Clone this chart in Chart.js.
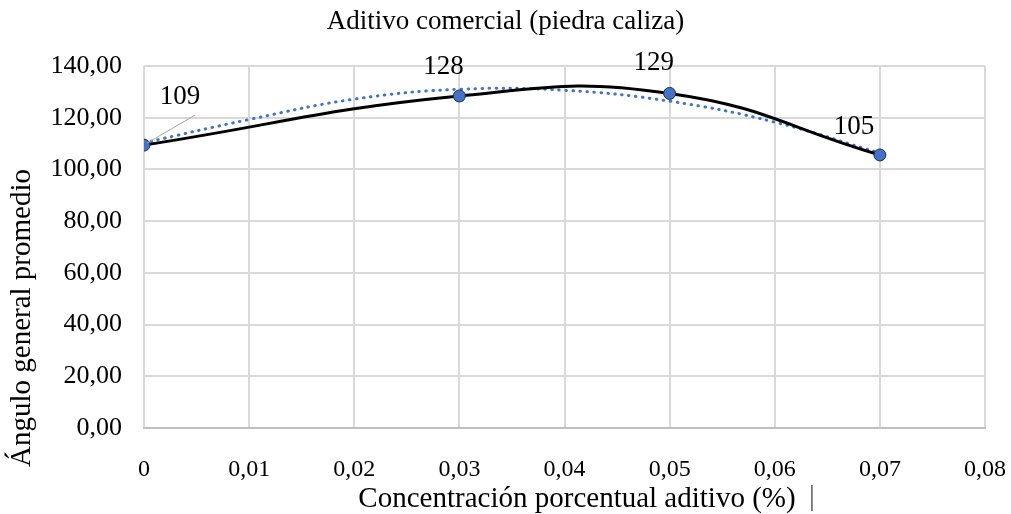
<!DOCTYPE html>
<html>
<head>
<meta charset="utf-8">
<script src="https://cdn.jsdelivr.net/npm/chart.js@4/dist/chart.umd.min.js"></script>
<style>
  html, body { margin: 0; background: #fff; }
  #wrap { width: 1011px; height: 514px; }
</style>
</head>
<body>
<div id="wrap"><canvas id="c"></canvas></div>
<script>
// values
const concentracion = [0, 0.03, 0.05, 0.07];
const angulo = [109.4, 128.4, 129.4, 105.6];
const etiquetas = ["109", "128", "129", "105"];
// dotted trend line, sampled along its path in the picture
const tendenciaX = [0, 0.01, 0.02, 0.03, 0.04, 0.05, 0.06, 0.07];
const tendenciaY = [110.3, 119.3, 127.2, 131.0, 130.6, 126.4, 118.3, 106.3];
const xTicks = [0, 0.01, 0.02, 0.03, 0.04, 0.05, 0.06, 0.07, 0.08];

const SERIF = "'Liberation Serif', 'Times New Roman', serif";
const BLUE = "#4472c4";
const GRID = "#d9d9d9";

// label offsets from each point (px)
const labelOffsets = [[36, -48], [-16, -29], [-16, -31], [-26, -28]];

const coma = (v, d) => v.toFixed(d).replace(".", ",");

const extras = {
  id: "extras",
  afterDatasetsDraw(chart) {
    const ctx = chart.ctx;
    const meta = chart.getDatasetMeta(0);
    ctx.save();
    ctx.font = "27px " + SERIF;
    ctx.fillStyle = "#000";
    ctx.textAlign = "center";
    ctx.textBaseline = "middle";
    meta.data.forEach((pt, i) => {
      const [dx, dy] = labelOffsets[i];
      if (i === 0) {
        ctx.strokeStyle = "#a6a6a6";
        ctx.lineWidth = 1;
        ctx.beginPath();
        ctx.moveTo(pt.x + 3, pt.y - 2);
        ctx.lineTo(pt.x + dx + 15, pt.y + dy + 18);
        ctx.stroke();
      }
      ctx.fillText(etiquetas[i], pt.x + dx, pt.y + dy);
    });
    // axis titles, placed as in the reference (not centred on the axes)
    ctx.font = "29px " + SERIF;
    ctx.fillText("Concentración porcentual aditivo (%)", 577, 499);
    ctx.fillStyle = "#555";
    ctx.fillText("|", 812, 497);
    ctx.fillStyle = "#000";
    ctx.translate(22, 318);
    ctx.rotate(-Math.PI / 2);
    ctx.fillText("Ángulo general promedio", 0, 0);
    ctx.restore();
  }
};

new Chart(document.getElementById("c"), {
  type: "scatter",
  data: {
    datasets: [
      {
        label: "Ángulo",
        data: concentracion.map((x, i) => ({ x, y: angulo[i] })),
        showLine: true,
        borderColor: "#000",
        borderWidth: 3,
        tension: 0.45,
        pointRadius: 6,
        pointBackgroundColor: BLUE,
        pointBorderColor: "#1f2d4d",
        pointBorderWidth: 1,
        order: 0,
      },
      {
        label: "Tendencia",
        data: tendenciaX.map((x, i) => ({ x, y: tendenciaY[i] })),
        showLine: true,
        borderColor: BLUE,
        borderWidth: 3,
        borderDash: [0.5, 6.5],
        borderCapStyle: "round",
        tension: 0.4,
        pointRadius: 0,
        order: 1,
      },
    ],
  },
  options: {
    responsive: true,
    maintainAspectRatio: false,
    animation: false,
    layout: { padding: 0 },
    plugins: {
      legend: { display: false },
      tooltip: { enabled: false },
      title: {
        display: true,
        text: "Aditivo comercial (piedra caliza)",
        color: "#000",
        font: { family: SERIF, size: 27, weight: "normal" },
        padding: { top: 6, bottom: 27.6 },
      },
    },
    scales: {
      x: {
        type: "linear",
        min: 0,
        max: 0.08,
        afterBuildTicks: (s) => { s.ticks = xTicks.map(v => ({ value: v })); },
        afterFit: (s) => { s.height = 86; s.paddingRight = 26; s.paddingLeft = 0; },
        ticks: {
          color: "#000",
          font: { family: SERIF, size: 24 },
          padding: 27,
          maxRotation: 0,
          callback: (v) => (v === 0 ? "0" : coma(v, 2)),
        },
        grid: { color: GRID, lineWidth: 2, drawTicks: false },
        border: { color: "#bfbfbf", width: 2 },
        title: { display: false },
      },
      y: {
        min: 0,
        max: 140,
        afterFit: (s) => { s.width = 144; },
        ticks: {
          stepSize: 20,
          color: "#000",
          font: { family: SERIF, size: 26 },
          padding: 22,
          callback: (v) => coma(v, 2),
        },
        grid: { color: GRID, lineWidth: 2, drawTicks: false },
        border: { display: false },
        title: { display: false },
      },
    },
  },
  plugins: [extras],
});
</script>
</body>
</html>
